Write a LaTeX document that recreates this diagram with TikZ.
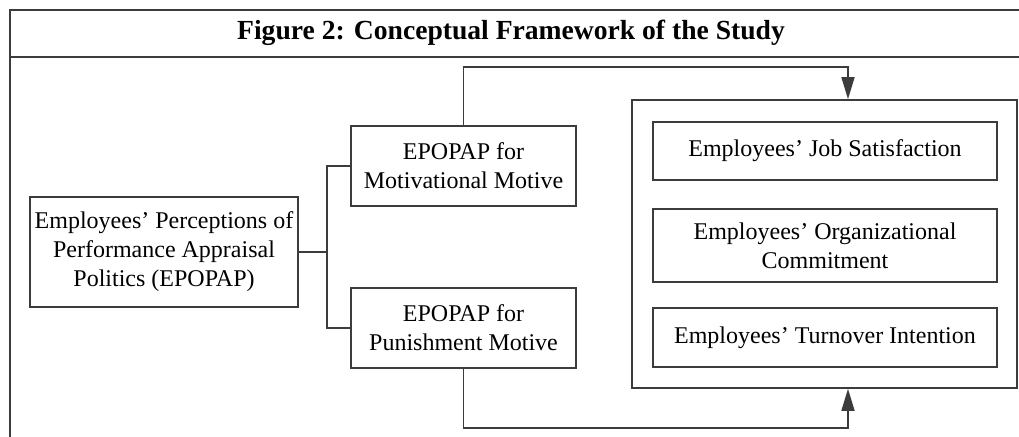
\documentclass[tikz,border=0pt]{standalone}
\usepackage{fontspec}
\setmainfont{Liberation Serif}
\usepackage{tikz}
\usetikzlibrary{positioning,arrows.meta}
\definecolor{fwline}{RGB}{60,60,60}

\begin{document}
\begin{tikzpicture}[
  x=0.5pt, y=-0.5pt,
  box/.style={draw=fwline, line width=0.8pt, align=center, inner sep=2pt,
              font=\fontsize{12}{14.5}\selectfont},
  wide/.style={box, minimum width=172pt},
  line/.style={draw=fwline, line width=0.8pt},
  arr/.style={line, -{Triangle[length=11pt, width=6.5pt]}},
]
\useasboundingbox (0,0) rectangle (1019,437);

% frame and title
\draw[line] (10,437) -- (10,10) -- (1019,10);
\draw[line] (10,57) -- (1019,57);
\node[font=\fontsize{13.8}{16}\selectfont\bfseries] (title) at (511,33)
  {Figure 2: Conceptual Framework of the Study};

% left side
\node[box, minimum width=134pt, minimum height=55pt] (epopap) at (164,252)
  {Employees' Perceptions of\\Performance Appraisal\\Politics (EPOPAP)};
\node[box, minimum width=112.5pt, minimum height=40pt] (mot) at (463.5,166)
  {EPOPAP for\\Motivational Motive};
\node[box, minimum width=112.5pt, minimum height=40pt] (pun) at (463.5,328)
  {EPOPAP for\\Punishment Motive};

% outcomes
\node[draw=fwline, line width=0.8pt, minimum width=192.5pt, minimum height=144pt]
  (outc) at (824.5,244) {};
\node[wide, minimum height=29pt] (job) at (825,151) {Employees' Job Satisfaction};
\node[wide, minimum height=36.5pt] (org) at (825,245.5)
  {Employees' Organizational\\Commitment};
\node[wide, minimum height=29.5pt] (turn) at (825,337.5)
  {Employees' Turnover Intention};

\coordinate (fork) at (327,249);
\coordinate (topbend) at (848,67);
\coordinate (botbend) at (848,428);

\draw[line] (epopap.east) -- (epopap.east -| fork);
\draw[line] (mot.west) -| (fork) |- (pun.west);
\draw[arr] (mot.north) |- (topbend) -- (topbend |- outc.north);
\draw[arr] (pun.south) |- (botbend) -- (botbend |- outc.south);
\end{tikzpicture}
\end{document}
